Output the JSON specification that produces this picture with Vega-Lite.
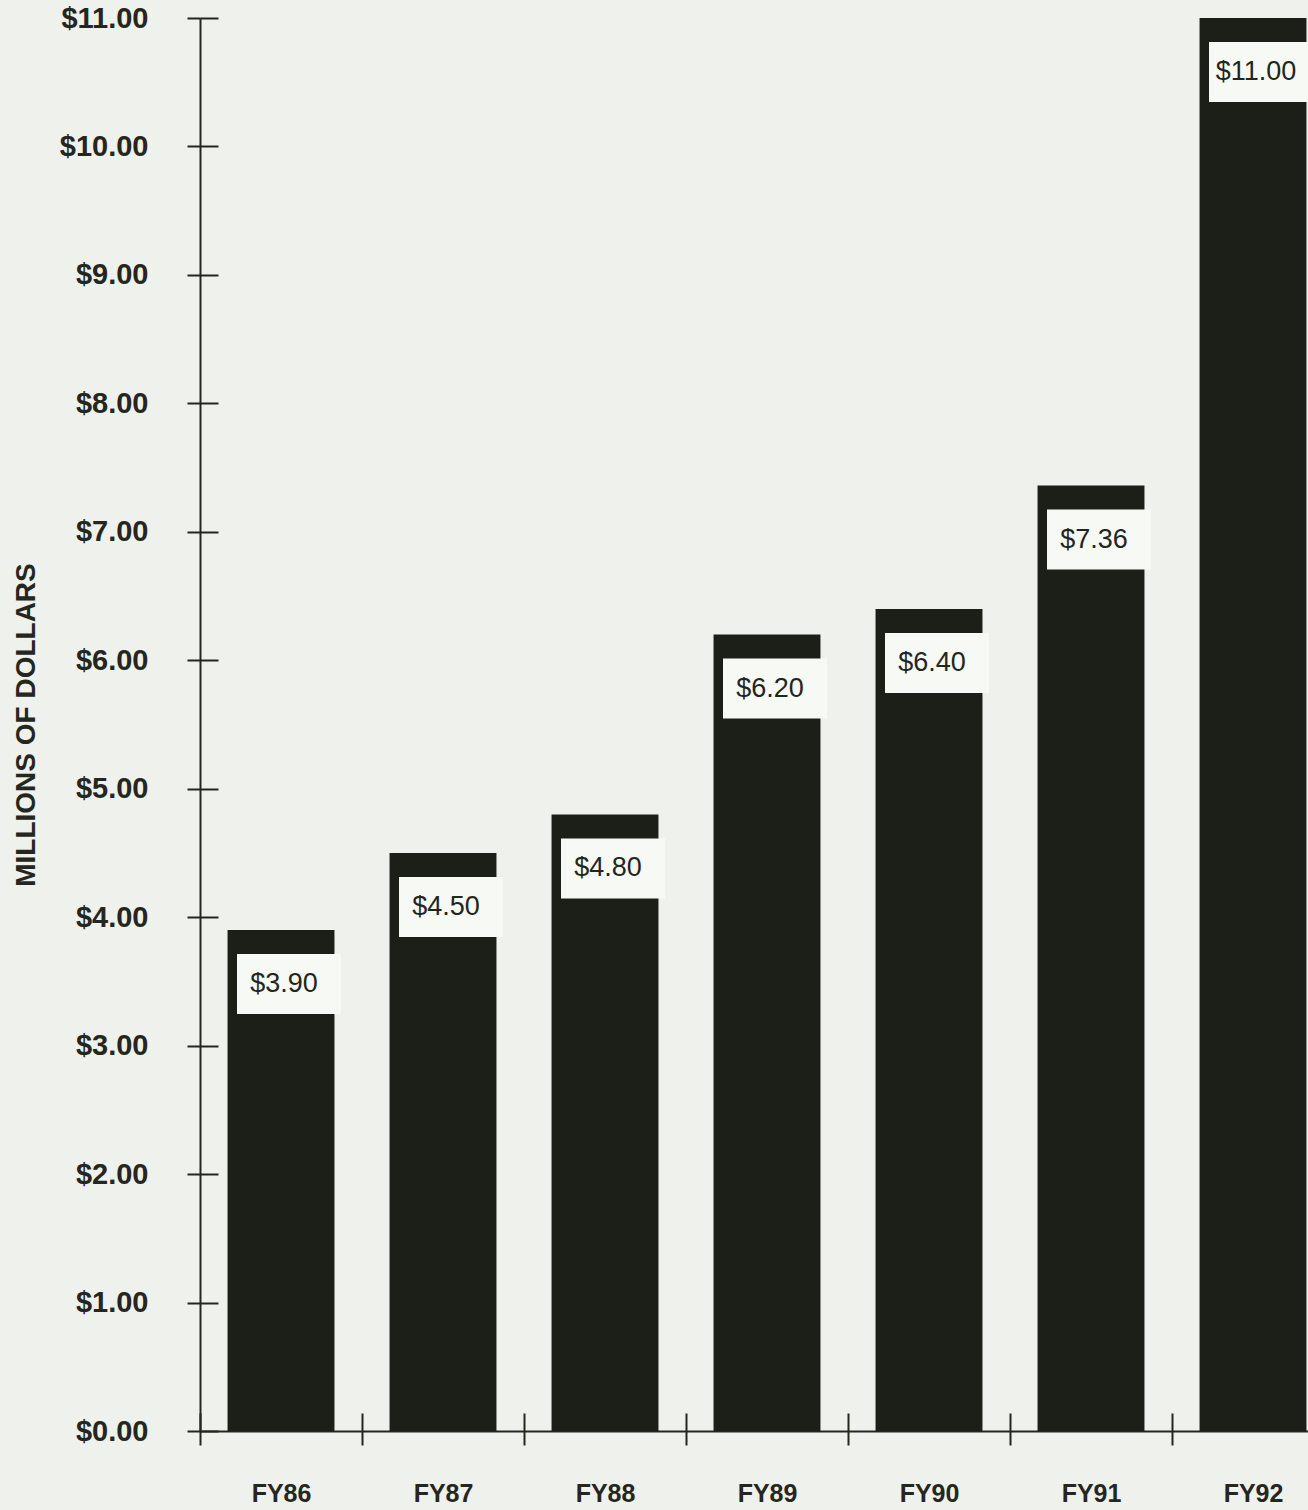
{
  "$schema": "https://vega.github.io/schema/vega-lite/v6.json",
  "width": 1108,
  "height": 1413,
  "autosize": {"type": "none"},
  "padding": {"left": 200, "top": 18, "right": 0, "bottom": 79},
  "background": "#eef1ec",
  "config": {
    "view": {"stroke": null},
    "axis": {
      "grid": false,
      "domainColor": "#25271f",
      "tickColor": "#25271f",
      "domainWidth": 2,
      "tickWidth": 2,
      "labelColor": "#25271f",
      "titleColor": "#25271f",
      "labelFont": "Liberation Sans",
      "titleFont": "Liberation Sans"
    }
  },
  "data": {
    "values": [
      {"year": "FY86", "value": 3.9},
      {"year": "FY87", "value": 4.5},
      {"year": "FY88", "value": 4.8},
      {"year": "FY89", "value": 6.2},
      {"year": "FY90", "value": 6.4},
      {"year": "FY91", "value": 7.36},
      {"year": "FY92", "value": 11.0}
    ]
  },
  "layer": [
    {
      "mark": {"type": "bar", "color": "#1c1f17"},
      "encoding": {
        "x": {
          "field": "year", "type": "nominal", "sort": null,
          "scale": {"domain": ["FY86","FY87","FY88","FY89","FY90","FY91","FY92"], "range": [0, 1134], "paddingInner": 0.34, "paddingOuter": 0.17},
          "axis": null
        },
        "y": {
          "field": "value", "type": "quantitative",
          "scale": {"domain": [0, 11], "nice": false, "zero": true},
          "axis": {"orient": "left", "title": "MILLIONS OF DOLLARS", "values": [0,1,2,3,4,5,6,7,8,9,10,11], "format": "$.2f", "tickSize": 13, "labelPadding": 39, "labelFontSize": 29, "labelFontWeight": "bold", "titleFontSize": 28, "titleFontWeight": "bold", "titlePadding": 19}
        }
      }
    },
    {
      "mark": {"type": "bar", "color": "#f7f9f4", "width": 104, "xOffset": 8, "yOffset": 24, "y2Offset": 84},
      "encoding": {
        "x": {
          "field": "year", "type": "nominal", "sort": null,
          "scale": {"domain": ["FY86","FY87","FY88","FY89","FY90","FY91","FY92"], "range": [0, 1134], "paddingInner": 0, "paddingOuter": 0},
          "axis": {"orient": "bottom", "title": null, "labels": false, "domain": false, "tickSize": -18, "tickBand": "extent"}
        },
        "y": {
          "field": "value", "type": "quantitative",
          "scale": {"domain": [0, 11], "nice": false, "zero": true},
          "axis": {"orient": "left", "title": null, "labels": false, "domain": false, "tickSize": -18, "values": [0,1,2,3,4,5,6,7,8,9,10,11]}
        },
        "y2": {"field": "value"}
      }
    },
    {
      "mark": {"type": "text", "font": "Liberation Sans", "fontSize": 27, "color": "#23261e", "dy": 54, "dx": 3, "baseline": "middle", "align": "center"},
      "encoding": {
        "x": {
          "field": "year", "type": "nominal", "sort": null,
          "scale": {"domain": ["FY86","FY87","FY88","FY89","FY90","FY91","FY92"], "range": [0, 1134], "paddingInner": 0, "paddingOuter": 0},
          "axis": {"orient": "bottom", "title": null, "labelAngle": 0, "tickSize": 14, "tickBand": "extent", "labelPadding": 36, "labelFontSize": 25, "labelFontWeight": "bold"}
        },
        "y": {
          "field": "value", "type": "quantitative",
          "scale": {"domain": [0, 11], "nice": false, "zero": true},
          "axis": null
        },
        "text": {"field": "value", "type": "quantitative", "format": "$.2f"}
      }
    }
  ],
  "resolve": {
    "scale": {"x": "independent", "y": "independent"},
    "axis": {"x": "independent", "y": "independent"}
  }
}
